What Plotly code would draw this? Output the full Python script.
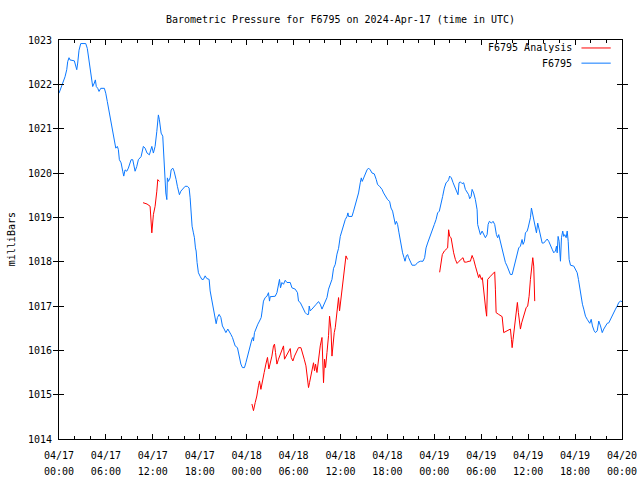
import pandas as pd
import plotly.graph_objects as go

# ---- data (hours since 2024-04-17 00:00 UTC, pressure in mbar) ----
obs_hours = [
    0.0, 0.35, 0.55, 0.77, 0.99, 1.11, 1.28, 1.41, 1.96, 2.14, 2.27, 2.39, 2.56, 2.78, 3.42, 3.62,
    3.75, 3.88, 4.01, 4.10, 4.22, 4.31, 4.52, 4.65, 4.77, 4.95, 5.12, 5.34, 5.80, 5.98, 6.18, 6.40,
    6.62, 6.82, 7.04, 7.26, 7.46, 7.59, 7.72, 7.94, 8.15, 8.28, 8.45, 8.67, 8.87, 9.22, 9.43, 9.60,
    9.73, 9.95, 10.15, 10.50, 10.79, 11.01, 11.26, 11.56, 11.87, 12.07, 12.29, 12.51, 12.71, 12.84,
    13.06, 13.27, 13.35, 13.44, 13.57, 13.66, 13.79, 13.86, 13.99, 14.21, 14.34, 14.55, 14.72, 14.85,
    14.98, 15.14, 15.40, 15.58, 15.83, 16.13, 16.42, 16.64, 16.77, 16.90, 17.02, 17.19, 17.32, 17.45,
    17.54, 17.66, 17.83, 18.05, 18.27, 18.47, 18.69, 18.90, 19.20, 19.33, 19.55, 19.75, 19.97, 20.10,
    20.26, 20.48, 20.70, 20.90, 21.12, 21.34, 21.59, 21.76, 21.98, 22.18, 22.31, 22.53, 22.82, 22.95,
    23.08, 23.26, 23.46, 23.72, 23.90, 24.10, 24.32, 24.54, 24.67, 24.79, 24.87, 25.00, 25.22, 25.43,
    25.64, 25.86, 25.98, 26.15, 26.37, 26.59, 26.79, 26.92, 27.01, 27.35, 27.65, 27.87, 28.07, 28.20,
    28.33, 28.51, 28.71, 28.93, 29.15, 29.57, 29.79, 30.21, 30.50, 30.63, 30.85, 31.07, 31.27, 31.49,
    31.71, 31.91, 32.00, 32.13, 32.35, 32.64, 32.90, 33.19, 33.41, 33.63, 33.83, 34.05, 34.27, 34.47,
    34.69, 34.91, 35.11, 35.33, 35.55, 35.75, 35.97, 36.19, 36.39, 36.61, 36.83, 36.95, 37.03, 37.47,
    37.67, 37.89, 38.11, 38.31, 38.53, 38.66, 38.78, 38.95, 39.17, 39.39, 39.59, 39.81, 40.03, 40.32,
    40.58, 40.74, 41.00, 41.31, 41.51, 41.73, 42.02, 42.28, 42.46, 42.66, 42.88, 43.01, 43.14, 43.30,
    43.48, 43.65, 43.78, 43.94, 44.12, 44.25, 44.42, 44.58, 44.71, 44.93, 45.15, 45.57, 45.86, 46.21,
    46.55, 46.76, 46.94, 47.14, 47.36, 47.58, 47.78, 48.00, 48.22, 48.42, 48.64, 48.86, 49.06, 49.28,
    49.50, 49.70, 49.83, 49.96, 50.18, 50.40, 50.60, 50.82, 51.03, 51.16, 51.33, 51.55, 51.75, 51.97,
    52.19, 52.39, 52.52, 52.70, 52.83, 53.03, 53.25, 53.47, 53.54, 53.72, 53.89, 54.11, 54.31, 54.53,
    54.75, 54.88, 55.04, 55.30, 55.51, 55.72, 55.94, 56.10, 56.23, 56.45, 56.67, 56.87, 57.09, 57.31,
    57.51, 57.73, 57.95, 58.15, 58.37, 58.58, 58.79, 59.01, 59.22, 59.35, 59.52, 59.65, 59.87, 59.99,
    60.16, 60.29, 60.42, 60.54, 60.71, 60.93, 61.06, 61.22, 61.35, 61.57, 61.79, 61.99, 62.21, 62.43,
    62.63, 62.85, 63.07, 63.27, 63.49, 63.62, 63.71, 63.83, 63.96, 64.13, 64.26, 64.42, 64.55, 64.68,
    64.86, 64.99, 65.12, 65.24, 65.41, 65.83, 66.05, 66.27, 66.43, 66.60, 66.78, 66.94, 67.11, 67.33,
    67.55, 67.75, 67.88, 68.06, 68.22, 68.44, 68.61, 68.83, 69.03, 69.25, 69.47, 69.67, 69.89, 70.11,
    70.31, 70.53, 70.75, 70.95, 71.17, 71.39, 71.59, 71.81, 72.0,
]
obs_mbar = [
    1021.80, 1021.95, 1022.06, 1022.17, 1022.33, 1022.51, 1022.60, 1022.55, 1022.53, 1022.40, 1022.33, 1022.48, 1022.77, 1022.92, 1022.92, 1022.81,
    1022.66, 1022.55, 1022.40, 1022.21, 1022.06, 1021.95, 1022.03, 1022.10, 1021.95, 1021.91, 1021.84, 1021.91, 1021.91, 1021.80, 1021.61, 1021.39,
    1021.16, 1020.94, 1020.75, 1020.56, 1020.60, 1020.53, 1020.30, 1020.23, 1020.04, 1019.93, 1020.07, 1020.04, 1020.11, 1020.30, 1020.30, 1020.15,
    1020.04, 1020.15, 1020.30, 1020.37, 1020.60, 1020.56, 1020.45, 1020.41, 1020.60, 1020.45, 1020.60, 1020.94, 1021.31, 1021.20,
    1020.90, 1020.83, 1020.56, 1020.15, 1019.81, 1019.55, 1019.40, 1019.89, 1019.81, 1019.89, 1020.07, 1020.11, 1020.04, 1019.96,
    1019.85, 1019.70, 1019.51, 1019.59, 1019.63, 1019.70, 1019.70, 1019.66, 1019.44, 1019.10, 1018.80, 1018.65, 1018.54, 1018.31,
    1018.24, 1017.98, 1017.75, 1017.67, 1017.60, 1017.60, 1017.68, 1017.62, 1017.60, 1017.34, 1017.11, 1016.93, 1016.74, 1016.60,
    1016.74, 1016.81, 1016.74, 1016.55, 1016.48, 1016.40, 1016.48, 1016.44, 1016.36, 1016.29, 1016.21, 1016.10, 1016.06, 1015.95,
    1015.80, 1015.69, 1015.61, 1015.61, 1015.72, 1015.87, 1016.02, 1016.18, 1016.25, 1016.29, 1016.21, 1016.40, 1016.51, 1016.59,
    1016.66, 1016.74, 1016.89, 1017.11, 1017.19, 1017.22, 1017.30, 1017.11, 1017.21, 1017.22, 1017.22, 1017.30, 1017.45, 1017.60,
    1017.41, 1017.53, 1017.49, 1017.58, 1017.53, 1017.53, 1017.41, 1017.38, 1017.30, 1017.11, 1017.08, 1017.00, 1016.93, 1016.85,
    1016.81, 1016.81, 1017.00, 1016.89, 1016.93, 1017.00, 1017.04, 1017.10, 1017.04, 1016.93, 1017.00, 1017.08, 1017.19, 1017.38,
    1017.51, 1017.60, 1017.85, 1017.94, 1018.17, 1018.30, 1018.57, 1018.72, 1018.84, 1018.95, 1019.02, 1019.10, 1019.02, 1019.02,
    1019.14, 1019.29, 1019.47, 1019.55, 1019.78, 1019.89, 1019.81, 1019.89, 1020.00, 1020.07, 1020.11, 1020.07, 1020.00, 1019.98,
    1019.85, 1019.74, 1019.70, 1019.63, 1019.55, 1019.47, 1019.40, 1019.36, 1019.21, 1019.14, 1018.91, 1018.84, 1018.91, 1018.84,
    1018.65, 1018.46, 1018.31, 1018.20, 1018.09, 1018.01, 1018.13, 1018.16, 1018.09, 1017.98, 1017.92, 1017.92, 1017.98, 1018.01,
    1018.01, 1018.09, 1018.31, 1018.42, 1018.54, 1018.65, 1018.75, 1018.84, 1018.95, 1019.10, 1019.14, 1019.29, 1019.47, 1019.66,
    1019.78, 1019.81, 1019.85, 1019.93, 1019.89, 1019.78, 1019.70, 1019.59, 1019.51, 1019.78, 1019.80, 1019.76, 1019.78, 1019.63,
    1019.55, 1019.51, 1019.42, 1019.47, 1019.63, 1019.55, 1019.40, 1019.17, 1018.84, 1018.69, 1018.61, 1018.69, 1018.61, 1018.54,
    1018.61, 1018.84, 1018.91, 1018.87, 1018.91, 1018.84, 1018.61, 1018.54, 1018.61, 1018.46, 1018.28, 1018.13, 1017.98, 1017.90,
    1017.79, 1017.71, 1017.71, 1017.86, 1018.05, 1018.20, 1018.31, 1018.35, 1018.50, 1018.39, 1018.46, 1018.65, 1018.69, 1018.76,
    1018.91, 1018.99, 1019.21, 1019.10, 1018.95, 1018.76, 1018.65, 1018.87, 1018.76, 1018.54, 1018.42, 1018.42, 1018.46, 1018.51,
    1018.46, 1018.35, 1018.28, 1018.20, 1018.24, 1018.35, 1018.20, 1018.57, 1018.46, 1018.01, 1018.54, 1018.69, 1018.57, 1018.61,
    1018.54, 1018.69, 1018.46, 1018.05, 1017.92, 1017.90, 1017.83, 1017.75, 1017.60, 1017.38, 1017.19, 1017.04, 1016.93, 1016.77,
    1016.70, 1016.66, 1016.61, 1016.70, 1016.55, 1016.44, 1016.40, 1016.44, 1016.66, 1016.55, 1016.40, 1016.48, 1016.55, 1016.61,
    1016.62, 1016.70, 1016.81, 1016.85, 1016.93, 1017.00, 1017.08, 1017.11, 1017.10,
]

# Analysis series, three separate runs (None = gap)
ana_hours = [
    10.75, 11.26, 11.65, 11.87, 12.07, 12.29, 12.51, 12.63, 12.84, None,
    24.67, 24.87, 25.09, 25.30, 25.51, 25.64, 25.82, 26.02, 26.24, 26.46, 26.66, 26.84, 27.01, 27.23,
    27.43, 27.56, 27.69, 27.87, 28.07, 28.29, 28.51, 28.71, 28.84, 29.06, 29.27, 29.57, 29.70, 29.91,
    30.12, 30.34, 30.63, 30.94, 31.14, 31.36, 31.58, 31.78, 31.91, 32.04, 32.22, 32.38, 32.55, 32.68,
    32.81, 32.99, 33.11, 33.24, 33.41, 33.63, 33.83, 33.96, 34.09, 34.27, 34.47, 34.60, 34.69, 34.78,
    34.91, 35.03, 35.20, 35.33, 35.46, 35.62, 35.75, 35.88, 36.06, 36.19, 36.32, 36.48, 36.61, 36.70,
    36.90, None,
    48.68, 48.86, 49.02, 49.28, 49.54, 49.70, 49.83, 49.96, 50.14, 50.30, 50.47, 50.69, 50.91, 51.16,
    51.42, 51.67, 51.84, 52.10, 52.44, 52.61, 52.83, 53.03, 53.25, 53.47, 53.67, 53.80, 54.02, 54.14,
    54.31, 54.44, 54.57, 54.69, 54.82, 55.17, 55.51, 55.72, 55.81, 55.90, 56.23, 56.67, 56.87, 57.31,
    57.73, 57.86, 57.95, 58.07, 58.20, 58.37, 58.50, 58.62, 58.75, 58.88, 59.01, 59.17, 59.35, 59.52,
    59.74, 59.94, 60.12, 60.29, 60.46, 60.59, 60.71, 60.84,
]
ana_mbar = [
    1019.33, 1019.30, 1019.25, 1018.65, 1019.06, 1019.25, 1019.59, 1019.85, 1019.81, None,
    1014.79, 1014.64, 1014.82, 1014.97, 1015.20, 1015.31, 1015.12, 1015.27, 1015.50, 1015.69, 1015.84, 1015.58, 1015.69, 1015.87,
    1016.10, 1016.14, 1015.95, 1015.69, 1015.80, 1015.91, 1016.02, 1016.10, 1015.80, 1015.87, 1015.95, 1016.04, 1015.84, 1015.76,
    1015.87, 1015.95, 1016.06, 1016.06, 1015.95, 1015.80, 1015.65, 1015.42, 1015.16, 1015.27, 1015.42, 1015.57, 1015.72, 1015.54,
    1015.69, 1015.50, 1015.72, 1015.84, 1016.10, 1016.29, 1015.27, 1015.80, 1015.61, 1015.95, 1016.33, 1016.77, 1016.59, 1016.48,
    1015.87, 1016.18, 1016.40, 1016.51, 1016.77, 1016.93, 1017.19, 1016.89, 1017.15, 1017.38, 1017.53, 1017.79, 1018.01, 1018.13,
    1018.05, None,
    1017.76, 1018.01, 1018.16, 1018.24, 1018.28, 1018.31, 1018.72, 1018.57, 1018.54, 1018.35, 1018.20, 1018.05, 1017.96, 1018.01,
    1018.05, 1018.09, 1017.99, 1017.99, 1018.01, 1018.01, 1018.14, 1018.05, 1017.90, 1017.75, 1017.64, 1017.71, 1017.60, 1017.64,
    1017.30, 1017.15, 1016.93, 1016.77, 1017.60, 1017.67, 1017.73, 1017.77, 1017.38, 1016.85, 1016.81, 1016.76, 1016.40, 1016.44,
    1016.48, 1016.25, 1016.06, 1016.25, 1016.44, 1016.59, 1016.85, 1017.08, 1016.85, 1016.70, 1016.48, 1016.62, 1016.74, 1016.85,
    1016.96, 1017.00, 1017.22, 1017.60, 1017.83, 1018.09, 1017.90, 1017.11,
]

start = pd.Timestamp("2024-04-17 00:00")
end = pd.Timestamp("2024-04-20 00:00")
y_range = [1014, 1023]
title_text = "Barometric Pressure for F6795 on 2024-Apr-17 (time in UTC)"
y_label = "milliBars"
names = ["F6795 Analysis", "F6795"]
colors = ["#ff0000", "#0a78ff"]


def to_time(hours):
    return [None if h is None else start + pd.Timedelta(hours=h) for h in hours]


FONT = "DejaVu Sans Mono"

fig = go.Figure()
fig.add_trace(go.Scatter(x=to_time(obs_hours), y=obs_mbar, mode="lines", name=names[1],
                         line=dict(color=colors[1], width=1), connectgaps=False))
fig.add_trace(go.Scatter(x=to_time(ana_hours), y=ana_mbar, mode="lines", name=names[0],
                         line=dict(color=colors[0], width=1), connectgaps=False))
# invisible trace on the second x axis (carries the time-of-day label row)
fig.add_trace(go.Scatter(x=[start, end], y=y_range, mode="lines", xaxis="x2",
                         line=dict(width=0), hoverinfo="skip", showlegend=False))

H = 3600 * 1000
fig.update_layout(
    width=640, height=480,
    margin=dict(l=59, r=18, t=40, b=41),
    paper_bgcolor="white", plot_bgcolor="white",
    showlegend=False,
    font=dict(family=FONT, size=10, color="black"),
    title=dict(text=title_text, x=0.5, xanchor="center", xref="paper",
               y=1 - 19 / 480, yref="container", yanchor="middle",
               font=dict(family=FONT, size=10, color="black")),
    xaxis=dict(type="date", range=[start, end], tick0=start, dtick=6 * H,
               tickformat="%m/%d", ticks="inside", ticklen=5, tickcolor="black",
               minor=dict(dtick=2 * H, tick0=start, ticks="inside", ticklen=3, tickcolor="black"),
               showline=True, linecolor="black", linewidth=1, mirror="allticks",
               showgrid=False, zeroline=False, automargin=False, ticklabelstandoff=7,
               tickfont=dict(family=FONT, size=10)),
    xaxis2=dict(type="date", range=[start, end], tick0=start, dtick=6 * H, overlaying="x",
                anchor="y", side="bottom", tickformat="%H:%M", ticks="", showline=False,
                showgrid=False, zeroline=False, automargin=False, ticklabelstandoff=25,
                tickfont=dict(family=FONT, size=10)),
    yaxis=dict(range=y_range, dtick=1, ticks="inside", ticklen=5, tickcolor="black",
               showline=True, linecolor="black", linewidth=1, mirror="allticks",
               showgrid=False, zeroline=False, tickformat="d", automargin=False,
               ticklabelstandoff=4, tickfont=dict(family=FONT, size=10)),
)

# y label
fig.add_annotation(text=y_label, xref="paper", yref="paper", x=-0.084, y=0.5,
                   textangle=-90, showarrow=False, xanchor="center", yanchor="middle",
                   font=dict(family=FONT, size=10))

# legend (gnuplot style: right-aligned text followed by line sample)
for i, (nm, col) in enumerate(zip(names, colors)):
    yy = 0.98 - i * 0.038
    fig.add_annotation(text=nm, xref="paper", yref="paper", x=0.914, y=yy,
                       xanchor="right", yanchor="middle", showarrow=False,
                       font=dict(family=FONT, size=10))
    fig.add_shape(type="line", xref="paper", yref="paper", x0=0.928, x1=0.98, y0=yy, y1=yy,
                  line=dict(color=col, width=1))

fig.write_html("out.html", config={"displayModeBar": False},
               post_script="document.body.style.margin='0';document.body.style.overflow='hidden';")
